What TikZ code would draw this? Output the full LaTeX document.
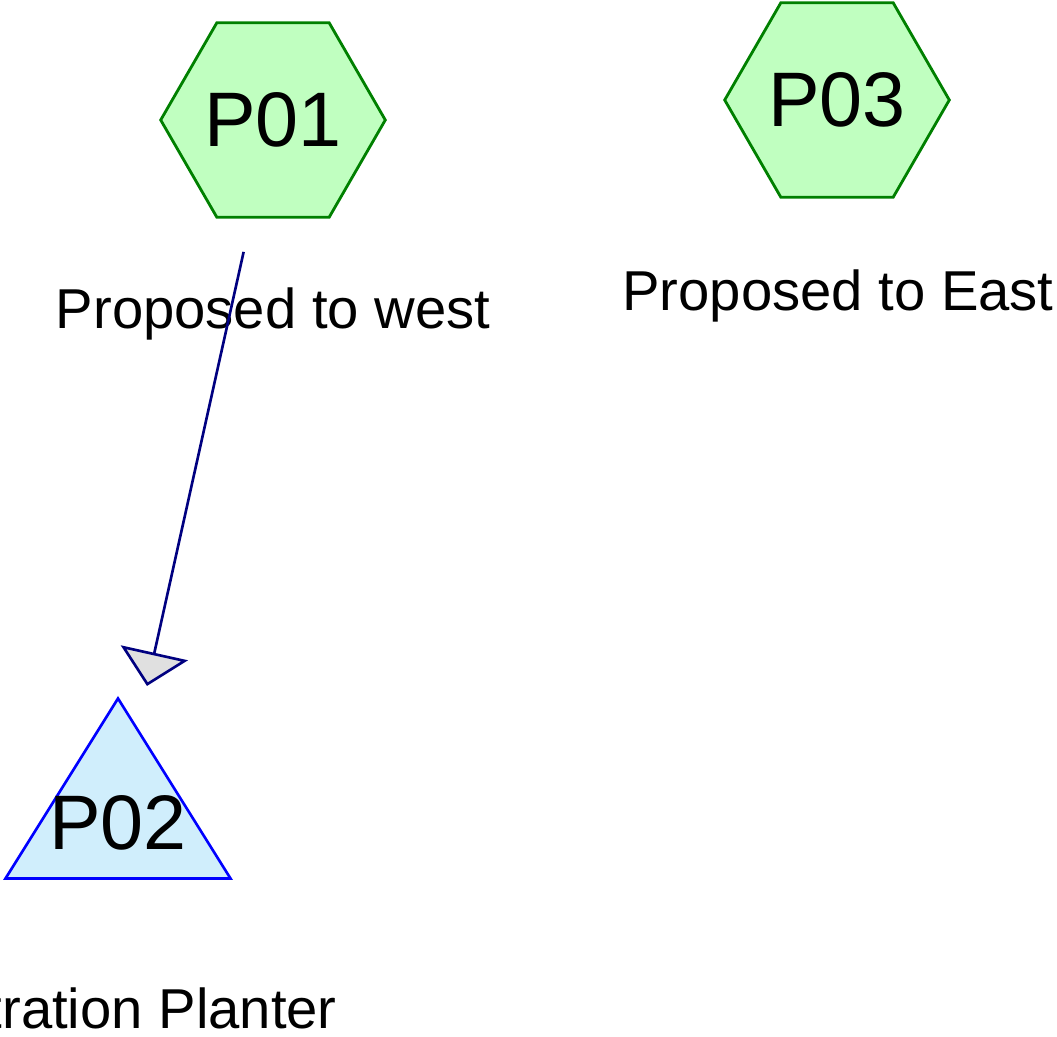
\documentclass[tikz,border=0pt]{standalone}
\usepackage{fontspec}
\setmainfont{Liberation Sans}
\usetikzlibrary{shapes.geometric, arrows.meta}

\definecolor{hexfill}{HTML}{C0FFC0}
\definecolor{hexline}{HTML}{008000}
\definecolor{trifill}{HTML}{D0EEFC}
\definecolor{navy}{HTML}{000080}

\begin{document}
\begin{tikzpicture}[
    x=0.02cm, y=-0.02cm,
    hexa/.style={regular polygon, regular polygon sides=6, minimum size=4.48cm, inner sep=0pt,
        draw=hexline, fill=hexfill, line width=1.6pt, font=\fontsize{44}{50}\selectfont},
    tri/.style={isosceles triangle, isosceles triangle stretches, shape border rotate=90,
        minimum width=4.5cm, minimum height=3.6cm, inner sep=0pt, text height=0pt, text depth=0pt,
        draw=blue, fill=trifill, line width=1.5pt, font=\fontsize{44}{50}\selectfont},
    lbl/.style={anchor=base, font=\fontsize{32}{38}\selectfont},
    flow/.style={-{Triangle[length=0.68cm, width=1.37cm, fill=black!12]}, draw=navy, line width=1.5pt,
        shorten <=0.68cm, shorten >=0.84cm}
]
    \clip (0,0) rectangle (1057,1036);

    % Planters
    \node[hexa] (p01) at (273,120) {P01};
    \node[hexa] (p03) at (837,100) {P03};
    \node[tri, anchor=apex] (p02) at (118,695) {\makebox[0pt]{\raisebox{-0.66cm}{P02}}};

    % Labels
    \node[lbl] (p01lbl) at (273,328) {Proposed to west};
    \node[lbl] (p03lbl) at (838,310) {Proposed to East};
    \node[lbl] (p02lbl) at (118,1028) {Infiltration Planter};

    % Flow
    \draw[flow] (p01) -- (p02);

\end{tikzpicture}
\end{document}
